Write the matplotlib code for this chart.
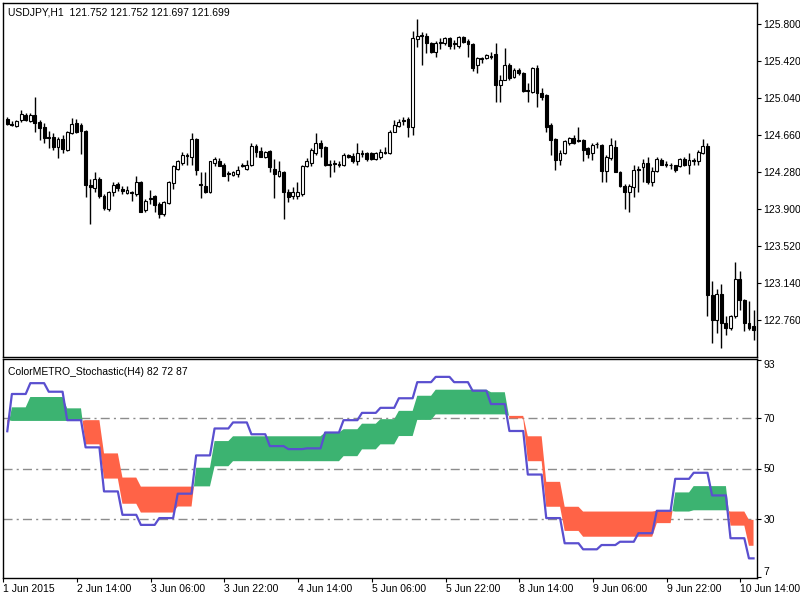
import numpy as np
import matplotlib
matplotlib.use('Agg')
import matplotlib.pyplot as plt

plt.rcParams['font.family'] = ['Liberation Sans', 'DejaVu Sans']

title_text = 'USDJPY,H1  121.752 121.752 121.697 121.699'
ind_text = 'ColorMETRO_Stochastic(H4) 82 72 87'

# H1 candles, 1 Jun 2015 22:00 .. 10 Jun 2015
opens = [124.825, 124.774, 124.753, 124.814, 124.865, 124.804, 124.865, 124.794, 124.743, 124.642,
         124.642, 124.540, 124.621, 124.510, 124.682, 124.784, 124.764, 124.703, 124.144, 124.113,
         124.205, 124.032, 123.900, 124.072, 124.154, 124.103, 124.062, 124.072, 124.052, 124.174,
         123.890, 124.012, 124.032, 123.951, 123.849, 123.961, 124.164, 124.316, 124.377, 124.459,
         124.438, 124.621, 124.154, 124.133, 124.072, 124.377, 124.398, 124.357, 124.266, 124.245,
         124.256, 124.347, 124.316, 124.357, 124.550, 124.499, 124.438, 124.499, 124.316, 124.235,
         124.276, 124.072, 124.032, 124.032, 124.052, 124.337, 124.377, 124.479, 124.581, 124.540,
         124.367, 124.377, 124.367, 124.347, 124.459, 124.449, 124.388, 124.479, 124.479, 124.479,
         124.418, 124.438, 124.489, 124.479, 124.692, 124.753, 124.814, 124.825, 124.743, 125.638,
         125.688, 125.678, 125.597, 125.506, 125.607, 125.597, 125.648, 125.597, 125.566, 125.658,
         125.617, 125.587, 125.373, 125.445, 125.445, 125.465, 125.485, 125.170, 125.221, 125.373,
         125.251, 125.323, 125.292, 125.119, 125.099, 125.343, 125.089, 125.069, 124.764, 124.621,
         124.408, 124.479, 124.581, 124.631, 124.611, 124.611, 124.530, 124.479, 124.571, 124.560,
         124.286, 124.428, 124.540, 124.276, 124.133, 124.072, 124.123, 124.316, 124.327, 124.377,
         124.174, 124.286, 124.408, 124.367, 124.357, 124.347, 124.337, 124.418, 124.357, 124.408,
         124.388, 124.479, 124.550, 123.016, 122.762, 123.036, 122.731, 122.681, 122.802, 123.188,
         122.965, 122.731, 122.701]
highs = [124.845, 124.804, 124.814, 124.916, 124.886, 124.886, 125.048, 124.814, 124.784, 124.703,
         124.682, 124.642, 124.662, 124.703, 124.835, 124.825, 124.784, 124.713, 124.205, 124.276,
         124.225, 124.052, 124.083, 124.174, 124.174, 124.133, 124.133, 124.083, 124.235, 124.184,
         124.001, 124.093, 124.042, 123.971, 123.981, 124.184, 124.357, 124.408, 124.489, 124.479,
         124.682, 124.631, 124.276, 124.276, 124.398, 124.438, 124.428, 124.377, 124.286, 124.286,
         124.337, 124.377, 124.408, 124.581, 124.571, 124.540, 124.499, 124.510, 124.418, 124.398,
         124.286, 124.103, 124.123, 124.174, 124.357, 124.428, 124.530, 124.682, 124.611, 124.550,
         124.408, 124.408, 124.388, 124.479, 124.469, 124.479, 124.581, 124.510, 124.489, 124.489,
         124.489, 124.520, 124.540, 124.713, 124.814, 124.825, 124.845, 124.845, 125.729, 125.851,
         125.709, 125.699, 125.607, 125.617, 125.648, 125.658, 125.658, 125.627, 125.678, 125.668,
         125.638, 125.597, 125.455, 125.455, 125.485, 125.506, 125.597, 125.272, 125.546, 125.394,
         125.343, 125.343, 125.302, 125.190, 125.353, 125.373, 125.140, 125.079, 124.784, 124.631,
         124.510, 124.611, 124.642, 124.662, 124.743, 124.621, 124.540, 124.581, 124.591, 124.571,
         124.459, 124.631, 124.611, 124.286, 124.154, 124.154, 124.357, 124.337, 124.418, 124.438,
         124.327, 124.438, 124.428, 124.388, 124.377, 124.357, 124.428, 124.438, 124.479, 124.428,
         124.510, 124.621, 124.581, 123.168, 123.087, 123.138, 122.802, 122.812, 123.361, 123.270,
         122.985, 122.955, 122.863]
lows = [124.764, 124.753, 124.743, 124.794, 124.804, 124.794, 124.692, 124.611, 124.581, 124.530,
        124.510, 124.428, 124.479, 124.499, 124.672, 124.682, 124.469, 124.022, 123.747, 124.072,
        124.012, 123.890, 123.879, 124.032, 124.083, 124.052, 124.052, 123.981, 124.032, 123.869,
        123.869, 123.951, 123.869, 123.808, 123.829, 123.951, 124.103, 124.296, 124.357, 124.357,
        124.357, 124.245, 124.012, 124.062, 124.062, 124.337, 124.337, 124.235, 124.184, 124.235,
        124.225, 124.327, 124.306, 124.337, 124.438, 124.438, 124.428, 124.276, 124.012, 124.225,
        123.798, 123.971, 124.001, 124.001, 124.032, 124.327, 124.337, 124.459, 124.438, 124.337,
        124.225, 124.276, 124.327, 124.337, 124.428, 124.377, 124.357, 124.438, 124.398, 124.408,
        124.408, 124.418, 124.469, 124.469, 124.692, 124.743, 124.764, 124.642, 124.662, 125.556,
        125.373, 125.495, 125.495, 125.455, 125.536, 125.577, 125.536, 125.536, 125.546, 125.597,
        125.455, 125.312, 125.292, 125.394, 125.434, 125.434, 124.997, 124.997, 125.221, 125.221,
        125.241, 125.272, 125.099, 124.997, 125.089, 124.947, 125.018, 124.692, 124.459, 124.306,
        124.357, 124.469, 124.560, 124.571, 124.591, 124.388, 124.428, 124.408, 124.530, 124.174,
        124.174, 124.408, 124.276, 124.123, 123.900, 123.869, 124.022, 124.072, 124.174, 124.154,
        124.133, 124.276, 124.347, 124.327, 124.316, 124.276, 124.327, 124.337, 124.256, 124.347,
        124.357, 124.469, 122.802, 122.528, 122.630, 122.477, 122.609, 122.660, 122.782, 122.863,
        122.650, 122.660, 122.558]
closes = [124.774, 124.764, 124.804, 124.875, 124.814, 124.865, 124.784, 124.733, 124.631, 124.631,
          124.540, 124.621, 124.520, 124.692, 124.774, 124.692, 124.703, 124.144, 124.123, 124.205,
          124.032, 123.910, 124.072, 124.144, 124.113, 124.083, 124.093, 124.062, 124.174, 123.869,
          123.981, 124.001, 123.940, 123.849, 123.971, 124.174, 124.337, 124.388, 124.459, 124.449,
          124.621, 124.306, 124.144, 124.072, 124.388, 124.418, 124.337, 124.235, 124.256, 124.276,
          124.306, 124.337, 124.347, 124.550, 124.489, 124.438, 124.489, 124.327, 124.256, 124.286,
          124.072, 124.022, 124.072, 124.072, 124.337, 124.388, 124.510, 124.581, 124.530, 124.347,
          124.357, 124.367, 124.357, 124.459, 124.438, 124.388, 124.479, 124.469, 124.418, 124.418,
          124.479, 124.489, 124.479, 124.692, 124.764, 124.794, 124.804, 124.743, 125.648, 125.678,
          125.678, 125.597, 125.506, 125.597, 125.597, 125.648, 125.566, 125.587, 125.658, 125.607,
          125.587, 125.343, 125.445, 125.434, 125.475, 125.455, 125.170, 125.221, 125.373, 125.241,
          125.323, 125.292, 125.109, 125.109, 125.343, 125.089, 125.048, 124.743, 124.611, 124.408,
          124.479, 124.601, 124.631, 124.581, 124.601, 124.510, 124.469, 124.560, 124.566, 124.286,
          124.438, 124.560, 124.276, 124.133, 124.072, 124.133, 124.306, 124.306, 124.377, 124.174,
          124.286, 124.418, 124.357, 124.357, 124.347, 124.306, 124.418, 124.357, 124.408, 124.398,
          124.489, 124.550, 123.016, 122.762, 123.036, 122.731, 122.681, 122.802, 123.188, 122.965,
          122.731, 122.681, 122.660]

# H4 stochastic values, each one held over the H1 bars it covers
h4_len = [1] + [4] * 40 + [2]
stoch_main = [64.8, 79.6, 83.9, 80.5, 69.2, 58.4, 40.9, 31.6, 27.6, 30.3, 40.0, 55.2, 65.9, 68.3,
              63.6, 58.9, 57.7, 58.0, 64.3, 69.2, 72.1, 74.1, 77.9, 84.3, 86.4, 84.3, 80.9, 75.6,
              64.9, 47.6, 30.3, 20.3, 17.9, 19.6, 20.9, 24.3, 33.2, 45.9, 48.3, 39.3, 22.3, 14.3]
band_fast = [64.6, 74.3, 78.4, 78.4, 73.9, 59.6, 46.0, 36.0, 32.5, 32.5, 34.9, 50.3, 60.9, 62.8,
             62.8, 62.8, 62.8, 62.8, 64.3, 65.6, 67.8, 69.6, 72.9, 78.9, 81.3, 81.3, 81.3, 80.3,
             69.9, 52.9, 34.8, 25.2, 22.9, 22.9, 22.9, 22.9, 28.3, 40.5, 43.0, 43.0, 27.3, 19.3]
band_slow = [69.3, 68.9, 68.9, 68.9, 68.9, 69.2, 56.0, 46.4, 42.8, 42.8, 42.8, 42.9, 50.9, 52.9,
             52.9, 52.9, 52.9, 52.9, 52.9, 54.9, 57.6, 59.6, 62.9, 69.3, 71.5, 71.5, 71.5, 71.5,
             70.9, 62.8, 44.7, 34.8, 32.9, 32.9, 32.9, 32.9, 33.2, 32.9, 33.4, 33.4, 32.9, 29.6]

price_ticks = [122.760, 123.140, 123.520, 123.900, 124.280, 124.660, 125.040, 125.420, 125.800]
stoch_ticks = [7, 30, 50, 70, 93]
stoch_levels = [30, 50, 70]
time_bars = [0, 16, 32, 48, 64, 80, 96, 112, 128, 144, 160]
time_labels = ['1 Jun 2015', '2 Jun 14:00', '3 Jun 06:00', '3 Jun 22:00', '4 Jun 14:00',
               '5 Jun 06:00', '5 Jun 22:00', '8 Jun 14:00', '9 Jun 06:00', '9 Jun 22:00',
               '10 Jun 14:00']

o = np.array(opens); h = np.array(highs); l = np.array(lows); c = np.array(closes)
x = np.arange(len(c))
main = np.repeat(stoch_main, h4_len)
fast = np.repeat(band_fast, h4_len)
slow = np.repeat(band_slow, h4_len)

fig = plt.figure(figsize=(8, 6), dpi=100)
ax1 = fig.add_axes([3 / 800, 1 - 357 / 600, 754 / 800, 354 / 600])
ax2 = fig.add_axes([3 / 800, 1 - 578 / 600, 754 / 800, 219 / 600])

# price panel
up = c >= o
ax1.vlines(x, l, h, color='black', lw=1, zorder=2)
ax1.bar(x, np.maximum(np.abs(c - o), 0.003), bottom=np.minimum(o, c), width=0.62,
        color=np.where(up, 'white', 'black'), edgecolor='black', linewidth=0.8, zorder=3)
ax1.set_xlim(-0.93, 162.75)
ax1.set_ylim(122.386, 126.011)
ax1.set_xticks([])
ax1.yaxis.tick_right()
ax1.set_yticks(price_ticks)
ax1.set_yticklabels(['%.3f' % v for v in price_ticks])
ax1.text(0.006, 0.974, title_text, transform=ax1.transAxes, fontsize=7.5, va='center')

# stochastic panel
for lv in stoch_levels:
    ax2.axhline(lv, color='#8c8c8c', lw=1, ls=(0, (6.5, 3, 1.5, 3)), zorder=1)
ax2.fill_between(x, fast, slow, where=fast >= slow, interpolate=True, color='#3cb371', lw=0, zorder=2)
ax2.fill_between(x, fast, slow, where=fast <= slow, interpolate=True, color='#ff6347', lw=0, zorder=2)
ax2.plot(x, main, color='#5a4fcf', lw=1.6, zorder=3)
ax2.set_xlim(-0.93, 162.75)
ax2.set_ylim(6.5, 93.5)
ax2.yaxis.tick_right()
ax2.set_yticks(stoch_ticks)
ax2.set_yticklabels([str(v) for v in stoch_ticks])
labs = ax2.get_yticklabels()
labs[0].set_verticalalignment('bottom')
labs[-1].set_verticalalignment('top')
ax2.set_xticks(np.array(time_bars) - 0.87)
ax2.set_xticklabels(time_labels, ha='left')
ax2.text(0.006, 0.94, ind_text, transform=ax2.transAxes, fontsize=7.5, va='center')

for ax in (ax1, ax2):
    ax.tick_params(direction='out', length=3, width=0.8, pad=1.5, labelsize=7.5, colors='black')
    for s in ax.spines.values():
        s.set_color('black')
        s.set_linewidth(1)

fig.savefig('out.png', dpi=100)
